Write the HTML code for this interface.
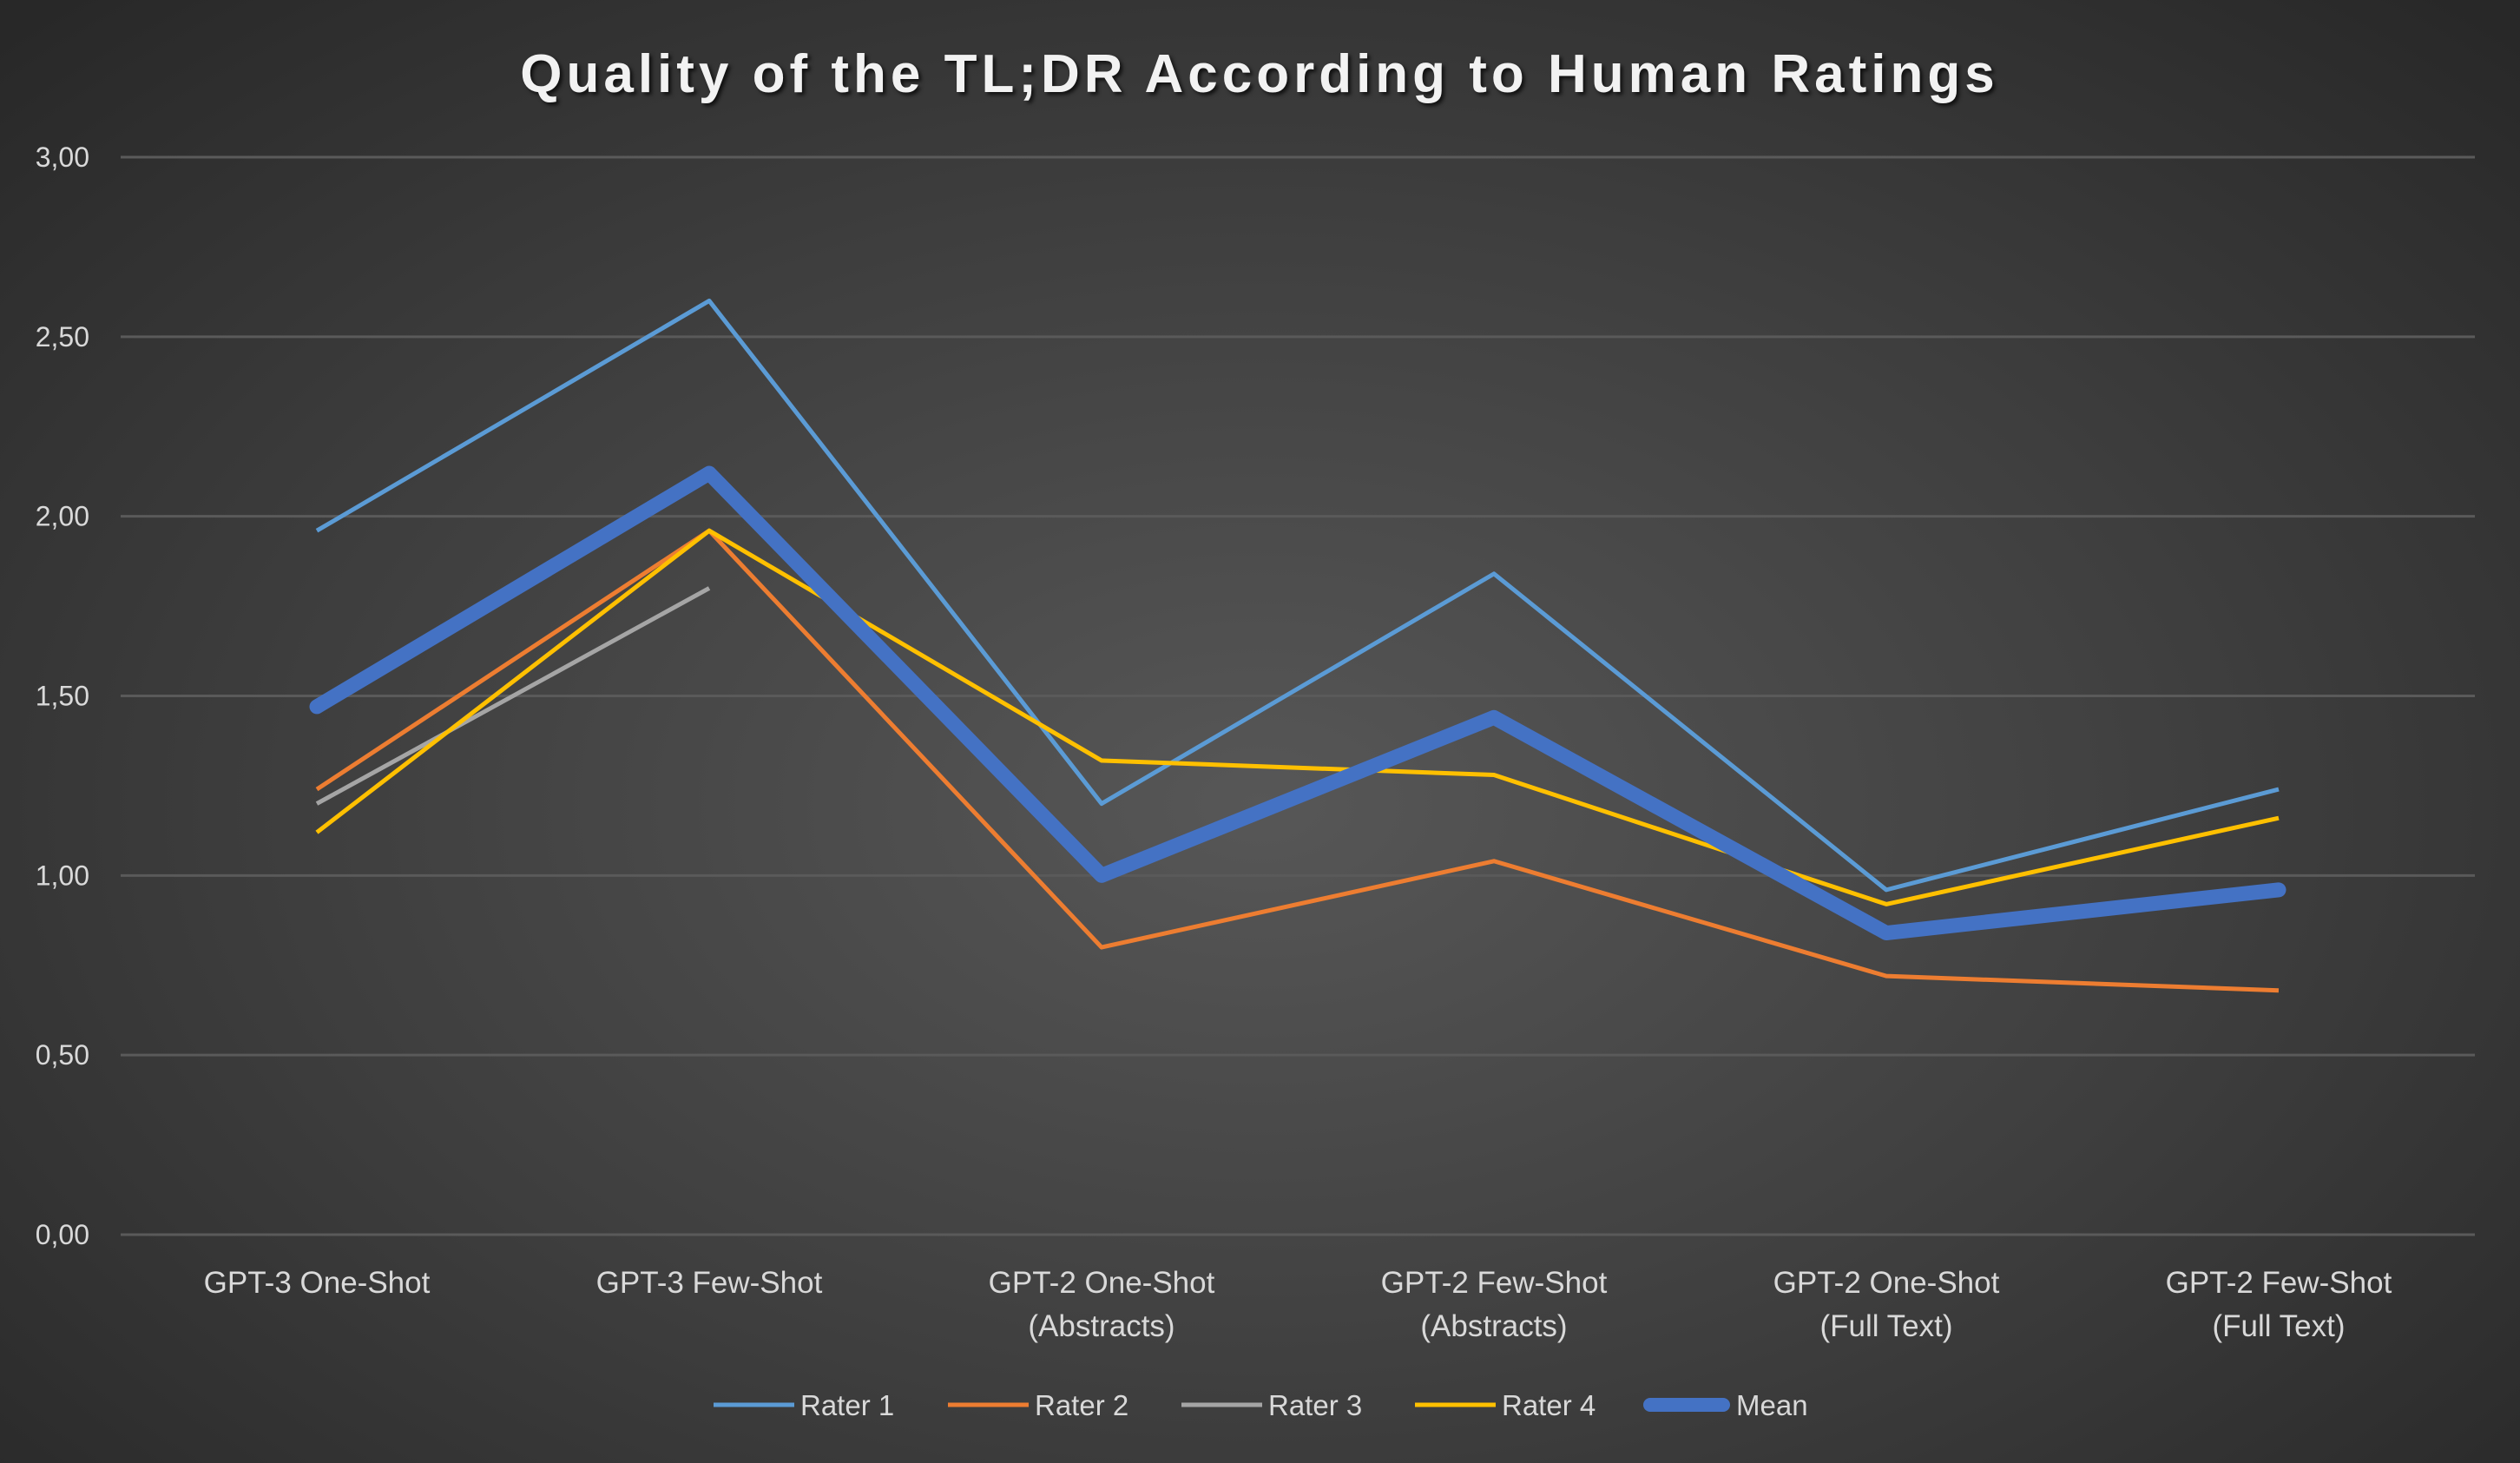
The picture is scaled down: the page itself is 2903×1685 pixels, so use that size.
<!DOCTYPE html>
<html><head><meta charset="utf-8"><style>
html,body{margin:0;padding:0;}
body{width:2903px;height:1685px;overflow:hidden;background:radial-gradient(ellipse 70% 75% at 50% 55%,#575757 0%,#3e3e3e 55%,#282828 100%);font-family:"Liberation Sans",sans-serif;}
svg{position:absolute;left:0;top:0;}
</style></head><body>
<svg id="chart" width="2903" height="1685">
<text x="1451" y="106" text-anchor="middle" font-size="62" font-weight="bold" fill="#f2f2f2" letter-spacing="5" style="filter:drop-shadow(3px 3px 2px rgba(0,0,0,0.7))">Quality of the TL;DR According to Human Ratings</text>
<g id="grid"></g><g id="yt"></g><g id="xt"></g><g id="series"></g><g id="legend"></g>
</svg>
<script>
const categories=[["GPT-3 One-Shot"],["GPT-3 Few-Shot"],["GPT-2 One-Shot","(Abstracts)"],["GPT-2 Few-Shot","(Abstracts)"],["GPT-2 One-Shot","(Full Text)"],["GPT-2 Few-Shot","(Full Text)"]];
const yTicks=[0,0.5,1,1.5,2,2.5,3];
const yTickLabels=["0,00","0,50","1,00","1,50","2,00","2,50","3,00"];
const rater1=[1.96,2.60,1.20,1.84,0.96,1.24];
const rater2=[1.24,1.96,0.80,1.04,0.72,0.68];
const rater3=[1.20,1.80,null,null,null,null];
const rater4=[1.12,1.96,1.32,1.28,0.92,1.16];
const meanVals=[1.47,2.12,1.00,1.44,0.84,0.96];
const seriesNames=["Rater 1","Rater 2","Rater 3","Rater 4","Mean"];

const NS="http://www.w3.org/2000/svg";
const L=139,R=2851,T=181,B=1422;
const xs=i=>L+(R-L)/categories.length*(i+0.5);
const ys=v=>B-(v/3)*(B-T);
function mk(tag,attrs,parent){const e=document.createElementNS(NS,tag);for(const k in attrs)e.setAttribute(k,attrs[k]);parent.appendChild(e);return e;}
const grid=document.getElementById('grid'),yt=document.getElementById('yt'),xt=document.getElementById('xt'),sg=document.getElementById('series'),lg=document.getElementById('legend');
yTicks.forEach((v,i)=>{
 const l=mk('line',{x1:L,x2:R,y1:ys(v),y2:ys(v),stroke:'#5a5a5a','stroke-width':3},grid);
 
 
 const t=mk('text',{x:103,y:ys(v)+11,'text-anchor':'end','font-size':32,fill:'#d9d9d9'},yt);
 t.textContent=yTickLabels[i];
 
 
});
categories.forEach((c,i)=>{
 c.forEach((s,j)=>{
  const t=mk('text',{x:xs(i),y:1489+j*50,'text-anchor':'middle','font-size':35,fill:'#d9d9d9'},xt);
  t.textContent=s;
  
  
 });
});
const series=[[rater1,'#5b9bd5',5],[rater2,'#ed7d31',5],[rater3,'#a5a5a5',5],[rater4,'#ffc000',5],[meanVals,'#4472c4',17]];
series.forEach((s,k)=>{
 let d='',pen=false;
 s[0].forEach((v,i)=>{if(v==null){pen=false;return;}d+=(pen?'L':'M')+xs(i)+' '+ys(v)+' ';pen=true;});
 const p=mk('path',{d:d,fill:'none',stroke:s[1],'stroke-width':s[2],'stroke-linejoin':'round','stroke-linecap':k==4?'round':'butt'},sg);
 
 
});
const lx=[822,1092,1361,1630,1893];
series.forEach((s,k)=>{
 const w=k==4?100:93;
 const l=mk('line',{x1:lx[k]+(k==4?8:0),x2:lx[k]+w-(k==4?8:0),y1:1618,y2:1618,stroke:s[1],'stroke-width':k==4?16:5,'stroke-linecap':k==4?'round':'butt'},lg);
 
 
 const t=mk('text',{x:lx[k]+w+7,y:1630,'font-size':33,fill:'#d9d9d9'},lg);
 t.textContent=seriesNames[k];
 
 
});
</script>
</body></html>
